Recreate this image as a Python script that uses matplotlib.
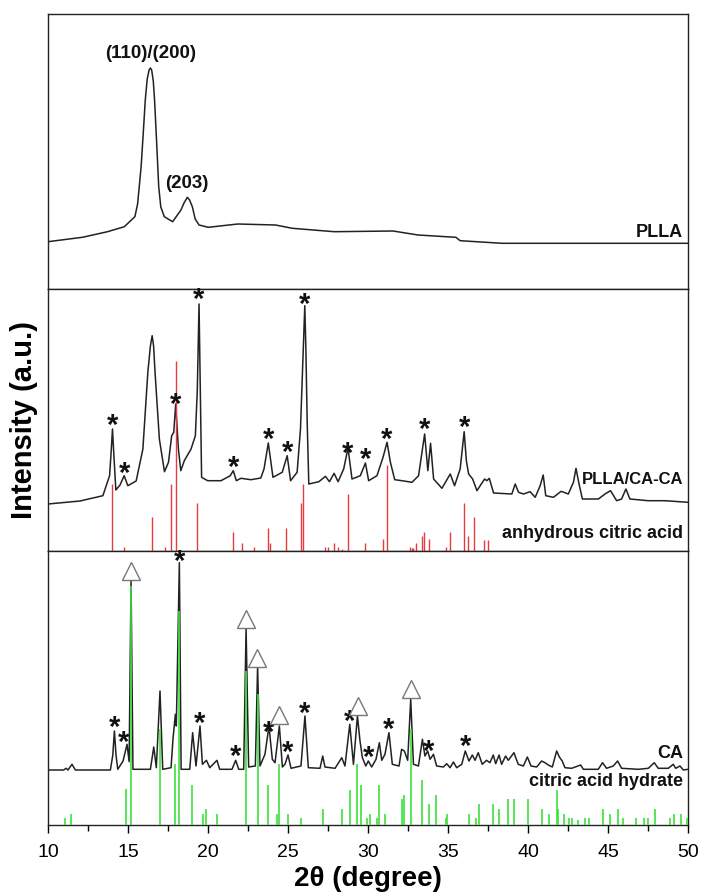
import matplotlib
matplotlib.use("Agg")
import matplotlib.pyplot as plt
from matplotlib.ticker import MultipleLocator

plt.rcParams["font.family"] = ["Liberation Sans", "DejaVu Sans"]

# PLLA curve (2theta, intensity)
plla_x = [10.0, 12.15, 13.72, 14.77, 15.43, 15.6, 15.82, 15.95, 16.08, 16.2, 16.32, 16.4,
          16.48, 16.58, 16.66, 16.78, 16.92, 17.05, 17.27, 17.79, 18.31, 18.5, 18.71, 18.85,
          19.02, 19.2, 19.44, 20.02, 21.86, 24.22, 25.27, 27.89, 31.56, 33.13, 35.49, 35.76,
          38.38, 43.63, 50.0]
plla_y = [47.3, 51.7, 57.3, 62.3, 72.3, 85, 122.3, 155, 189, 210, 219, 221,
          219, 208, 189, 150, 102.3, 82, 72.3, 67.3, 79, 86, 91.7, 89,
          82.3, 70, 64, 61.7, 65, 64, 60.7, 57.3, 58, 54, 51.7, 48.3,
          45.7, 45.7, 45.7]

# PLLA/CA-CA curve
mix_x = [10.0, 12.0, 13.43, 13.85, 13.95, 14.03, 14.12, 14.24, 14.5, 14.76, 14.99, 15.51,
         15.93, 16.24, 16.4, 16.51, 16.6, 16.69, 16.96, 17.28, 17.53, 17.73, 17.86, 17.98,
         18.15, 18.3, 18.52, 18.94, 19.21, 19.33, 19.44, 19.52, 19.6, 19.98, 20.81, 21.39,
         21.58, 21.77, 22.06, 22.68, 23.3, 23.5, 23.77, 24.06, 24.64, 24.95, 25.16, 25.57,
         25.78, 25.95, 26.05, 26.12, 26.2, 26.3, 26.93, 27.34, 27.59, 27.88, 28.13, 28.48,
         28.75, 29.0, 29.52, 29.84, 30.04, 30.56, 30.94, 31.19, 31.4, 31.67, 32.12, 32.75,
         33.16, 33.54, 33.74, 33.91, 34.1, 34.62, 35.14, 35.41, 35.76, 36.01, 36.15, 36.29,
         36.54, 36.81, 37.08, 37.29, 37.43, 37.58, 37.85, 38.99, 39.2, 39.41, 39.72, 40.13,
         40.45, 40.76, 40.95, 41.11, 41.59, 42.07, 42.52, 42.84, 43.0, 43.19, 43.4, 44.4,
         44.81, 45.16, 45.54, 45.85, 46.12, 46.37, 47.51, 48.55, 50.0]
mix_y = [47, 50, 55.3, 75.3, 100, 122, 95, 61, 66, 75.3, 65.3, 70,
         102, 178.7, 205, 215.3, 205, 178.7, 112, 79.3, 88.7, 115.3, 118.7, 147,
         102, 80.3, 90.3, 102, 115.3, 160, 247, 160, 73.7, 70.3, 70.3, 75.3,
         80.3, 70.3, 72.7, 71.3, 73, 82, 108, 73.7, 78.7, 95.3, 70.3, 78.7,
         122, 200, 245.3, 200, 128.7, 67, 69.3, 74.7, 69.3, 77.7, 69.3, 82,
         103, 72, 75.3, 88, 70.3, 75.3, 93.7, 108.7, 88.7, 71.3, 70.3, 68.7,
         75.3, 117, 80.3, 107.7, 72, 62.7, 77, 65.3, 82, 119.3, 90, 77,
         72, 60.3, 67, 72, 70.3, 72.7, 58, 57, 67, 58.7, 57, 59.3,
         53.7, 65.3, 76, 55.3, 53.7, 59.7, 57, 68.7, 82.7, 67, 52, 52,
         57, 60.3, 50.3, 52, 62, 52, 50.3, 50.3, 48.7]

# anhydrous citric acid reference lines
acid_pos = [13.99, 14.73, 16.47, 17.29, 17.68, 18.02, 19.33, 21.58, 22.1, 22.86, 23.72, 23.86,
            24.9, 25.83, 25.92, 27.32, 27.48, 27.85, 28.13, 28.38, 28.74, 29.79, 30.93, 31.17,
            32.6, 32.74, 32.84, 32.97, 33.39, 33.51, 33.84, 34.89, 35.14, 35.97, 36.23, 36.6,
            37.24, 37.48]
acid_int = [67, 4.5, 34.3, 4.3, 67, 190, 47.7, 19.5, 8, 4.3, 23, 8,
            23, 47.7, 67, 4.3, 4.3, 8, 4.3, 2.5, 57, 8, 12, 86.3,
            4, 3, 3, 7.7, 15.5, 19.3, 12, 4.5, 19.3, 47.7, 15.5, 34.3,
            11.5, 11.5]

# CA curve
ca_x = [10.0, 10.98, 11.13, 11.25, 11.5, 11.71, 13.9, 14.05, 14.15, 14.25, 14.36, 14.69,
        14.94, 15.07, 15.19, 15.31, 16.4, 16.61, 16.77, 17.0, 17.17, 17.69, 17.81, 17.96,
        18.02, 18.21, 18.32, 18.86, 19.04, 19.25, 19.5, 19.65, 19.9, 20.11, 20.56, 20.73,
        21.5, 21.73, 21.92, 22.23, 22.38, 22.54, 22.96, 23.1, 23.25, 23.56, 23.81, 24.02,
        24.19, 24.46, 24.65, 24.81, 25.0, 25.19, 25.81, 26.06, 26.27, 27.0, 27.17, 27.31,
        27.94, 28.36, 28.56, 28.86, 29.09, 29.34, 29.5, 29.65, 29.86, 30.02, 30.23, 30.5,
        30.71, 30.86, 31.06, 31.31, 31.52, 31.94, 32.1, 32.27, 32.48, 32.67, 32.84, 33.15,
        33.4, 33.56, 33.73, 33.88, 34.09, 34.29, 34.71, 34.92, 35.13, 35.34, 35.54, 35.86,
        36.08, 36.31, 36.52, 36.69, 36.89, 37.14, 37.41, 37.62, 37.83, 37.98, 38.19, 38.35,
        38.6, 38.77, 39.12, 39.39, 39.71, 39.96, 40.19, 40.54, 40.85, 41.06, 41.27, 41.52,
        41.79, 41.96, 42.14, 42.31, 42.73, 43.29, 43.46, 44.39, 44.66, 44.91, 45.33, 45.6,
        45.85, 46.89, 47.52, 47.89, 48.14, 48.77, 49.08, 49.23, 49.5, 49.71, 50.0]
ca_y = [55, 55, 56.7, 55, 60.7, 55, 55, 70, 94, 70, 55.7, 64,
        80.7, 63.3, 244, 55.7, 55.7, 78, 57.3, 134, 55.7, 57.3, 85.7, 110.7,
        99, 262.3, 55.7, 55.7, 92.3, 59, 99, 60.7, 64.7, 57.3, 64.7, 55.7,
        55.7, 64.7, 55.7, 55.7, 197.3, 58, 59, 159, 59, 70.7, 99, 65.7,
        62.3, 99, 58, 60.7, 70, 56.7, 59, 109, 57.3, 56.7, 69, 58,
        56.7, 67.3, 59, 100.7, 60.7, 109, 84, 67.3, 59, 64, 58, 65.7,
        82.3, 64.7, 70.7, 92.3, 60.7, 59, 75.7, 74, 64.7, 125.7, 60.7, 59,
        85.7, 69, 74, 65.7, 70.7, 59, 58, 61.3, 57.3, 63, 57.3, 60.7,
        74, 64, 70, 64.7, 72.3, 60.7, 64.7, 62.3, 70, 61.3, 70, 60.7,
        69, 64.7, 72.3, 60.7, 59, 68, 59, 58, 64, 62.3, 60, 58,
        74, 68, 64, 57.3, 56.7, 60, 55.7, 55.7, 62.3, 56.7, 59, 64,
        56.7, 55.7, 56.7, 62.3, 56.7, 56.7, 60.7, 56.7, 59, 55, 55.7]

# citric acid hydrate reference lines
hyd_pos = [11.09, 11.46, 14.9, 15.19, 17.0, 17.92, 18.21, 19.02, 19.69, 19.88, 20.56, 22.38,
           23.1, 23.77, 24.34, 24.46, 25.02, 25.81, 27.17, 28.36, 28.86, 29.34, 29.54, 29.96,
           30.11, 30.56, 30.71, 31.06, 32.13, 32.25, 32.67, 33.4, 33.81, 34.23, 34.86, 34.96,
           36.34, 36.73, 36.94, 37.83, 38.21, 38.73, 39.14, 39.98, 40.85, 41.33, 41.79, 41.85,
           42.23, 42.58, 42.73, 43.1, 43.56, 43.83, 44.7, 45.12, 45.6, 45.91, 46.73, 47.27,
           47.52, 47.94, 48.87, 49.12, 49.56, 49.91]
hyd_int = [7.3, 11.3, 35.7, 239, 95.7, 61.3, 214, 39.7, 11.3, 16.3, 11.3, 154,
           130.7, 39.7, 11.3, 60.7, 11.3, 7.3, 16.3, 16.3, 35, 60.7, 39.7, 7.3,
           11.3, 7.3, 39.7, 11.3, 25.7, 29.7, 95.7, 44.7, 20.7, 29.7, 7.3, 11.3,
           11.3, 7.3, 20.7, 20.7, 16.3, 25.7, 25.7, 25.7, 16.3, 11.3, 35, 16.3,
           11.3, 7.3, 7.3, 4.7, 7.3, 7.3, 16.3, 11.3, 16.3, 7.3, 7.3, 7.3,
           7.3, 16.3, 7.3, 11.3, 11.3, 7.3]

# marker positions (*: anhydrous citric acid, triangle: citric acid hydrate)
mix_star_x = [14.03, 14.76, 17.98, 19.44, 21.58, 23.77, 24.95, 26.05, 28.75, 29.84, 31.19, 33.54, 36.01]
mix_star_y = [129, 81, 150, 254.7, 87, 115, 102, 250, 101, 94.7, 115.3, 124.7, 127]
ca_star_x = [14.15, 14.73, 18.21, 19.5, 21.73, 23.81, 25.0, 26.06, 28.86, 30.02, 31.31, 33.81, 36.11]
ca_star_y = [100.7, 86.3, 267.3, 105, 71.7, 96.3, 75.7, 114.7, 107.3, 70.7, 99, 76.7, 81.7]
ca_tri_x = [15.19, 22.38, 23.06, 24.46, 29.36, 32.69]
ca_tri_y = [254, 205.7, 167.3, 110, 119, 136.3]

fig = plt.figure(figsize=(7.02, 8.92), dpi=100)
gs = fig.add_gridspec(3, 1, height_ratios=[275, 262, 274], hspace=0,
                      left=48/702, right=688/702, top=1-14/892, bottom=1-825/892)
ax1 = fig.add_subplot(gs[0])
ax2 = fig.add_subplot(gs[1], sharex=ax1)
ax3 = fig.add_subplot(gs[2], sharex=ax1)

bold = dict(fontweight="bold", color="#111111")
star_shift = 4  # '*' glyph sits high in its text box

# top: PLLA
ax1.plot(plla_x, plla_y, color="#222222", lw=1.1)
ax1.set_ylim(0, 275)
ax1.text(16.4, 236, "(110)/(200)", ha="center", va="center", fontsize=13.5, **bold)
ax1.text(18.7, 106, "(203)", ha="center", va="center", fontsize=13.5, **bold)
ax1.text(49.7, 57, "PLLA", ha="right", va="center", fontsize=13, **bold)

# middle: PLLA/CA-CA
ax2.plot(mix_x, mix_y, color="#222222", lw=1.1, zorder=2)
ax2.vlines(acid_pos, 0, acid_int, color="#e63c40", lw=1.0, zorder=3)
ax2.set_ylim(0, 262)
for sx, sy in zip(mix_star_x, mix_star_y):
    ax2.text(sx, sy - star_shift, "*", ha="center", va="center", fontsize=21, **bold)
ax2.text(49.7, 72, "PLLA/CA-CA", ha="right", va="center", fontsize=12, **bold)
ax2.text(49.7, 17, "anhydrous citric acid", ha="right", va="center", fontsize=13, **bold)

# bottom: CA
ax3.plot(ca_x, ca_y, color="#222222", lw=1.1, zorder=2)
ax3.vlines(hyd_pos, 0, hyd_int, color="#3ee03e", lw=1.2, zorder=3)
ax3.set_ylim(0, 274)
for sx, sy in zip(ca_star_x, ca_star_y):
    ax3.text(sx, sy - star_shift, "*", ha="center", va="center", fontsize=21, **bold)
ax3.plot(ca_tri_x, ca_tri_y, ls="none", marker="^", ms=13, mfc="white",
         mec="#777777", mew=1.0, zorder=4)
ax3.text(49.7, 71, "CA", ha="right", va="center", fontsize=13, **bold)
ax3.text(49.7, 44, "citric acid hydrate", ha="right", va="center", fontsize=13, **bold)

for ax in (ax1, ax2, ax3):
    ax.set_yticks([])
    for s in ax.spines.values():
        s.set_color("#222222")
        s.set_linewidth(1.0)
for ax in (ax1, ax2):
    ax.tick_params(axis="x", bottom=False, labelbottom=False)

ax3.set_xlim(10, 50)
ax3.xaxis.set_major_locator(MultipleLocator(5))
ax3.xaxis.set_minor_locator(MultipleLocator(2.5))
ax3.tick_params(axis="x", which="major", direction="out", length=6, width=1, labelsize=14, pad=8)
ax3.tick_params(axis="x", which="minor", direction="out", length=4, width=1)
ax3.set_xlabel("2θ (degree)", fontsize=20, fontweight="bold", labelpad=3)

fig.text(24/702, 1-420/892, "Intensity (a.u.)", rotation=90, ha="center", va="center",
         fontsize=21, fontweight="bold")

fig.savefig("out.png", dpi=100)
